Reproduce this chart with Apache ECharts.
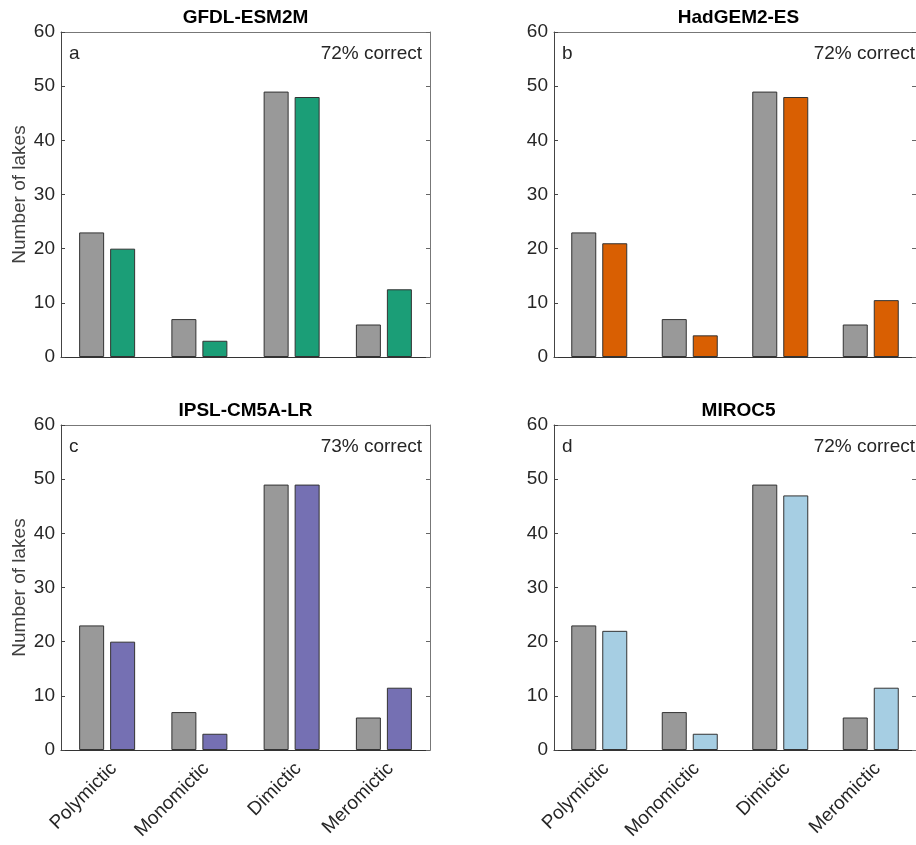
<!DOCTYPE html>
<html>
<head>
<meta charset="utf-8">
<script src="https://cdn.jsdelivr.net/npm/echarts@6/dist/echarts.min.js"></script>
<style>html,body{margin:0;padding:0;background:#fff;}#c{width:916px;height:845px;}</style>
</head>
<body>
<div id="c"></div>
<script>
var categories = ['Polymictic', 'Monomictic', 'Dimictic', 'Meromictic'];
var observed = [23, 7, 49, 6];
var gfdl = [20, 3, 48, 12.5];
var hadgem = [21, 4, 48, 10.5];
var ipsl = [20, 3, 49, 11.5];
var miroc = [22, 3, 47, 11.5];
var modelNames = ['GFDL-ESM2M', 'HadGEM2-ES', 'IPSL-CM5A-LR', 'MIROC5'];
var panelLetters = ['a', 'b', 'c', 'd'];
var correctLabels = ['72% correct', '72% correct', '73% correct', '72% correct'];
var yTicks = [0, 10, 20, 30, 40, 50, 60];

var modelData = [gfdl, hadgem, ipsl, miroc];
var colors = ['#1b9e77', '#d95f02', '#7570b3', '#a6cee3'];
var FONT = '"Liberation Sans", Arial, Helvetica, sans-serif';
var FS = 19;
var W = 369, H = 325;
var pos = [[61, 32], [554, 32], [61, 425], [554, 425]];

var grids = [], xAxes = [], yAxes = [], series = [], graphics = [];
for (var i = 0; i < 4; i++) {
  var L = pos[i][0], T = pos[i][1];
  grids.push({left: L, top: T, width: W, height: H, containLabel: false});
  var bottomPanel = i >= 2;
  xAxes.push({
    type: 'category', gridIndex: i, data: categories, position: 'bottom',
    axisLine: {show: true, onZero: false, lineStyle: {color: '#333', width: 1}},
    axisTick: {inside: true, alignWithLabel: true, length: 4, lineStyle: {color: '#444'}},
    axisLabel: {show: bottomPanel, rotate: 45, fontSize: FS, fontFamily: FONT, color: '#262626',
      margin: 9, interval: 0, verticalAlign: 'top'},
    splitLine: {show: false}
  });
  xAxes.push({
    type: 'category', gridIndex: i, data: categories, position: 'top',
    axisLine: {show: true, onZero: false, lineStyle: {color: '#777', width: 1}},
    axisTick: {inside: true, alignWithLabel: true, length: 4, lineStyle: {color: '#666'}},
    axisLabel: {show: false}, splitLine: {show: false}
  });
  yAxes.push({
    type: 'value', gridIndex: i, min: yTicks[0], max: yTicks[yTicks.length - 1], interval: 10, position: 'left',
    name: (i % 2 === 0) ? 'Number of lakes' : '', nameLocation: 'middle', nameGap: 32,
    nameTextStyle: {fontSize: FS, fontFamily: FONT, color: '#404040'},
    axisLine: {show: true, onZero: false, lineStyle: {color: '#444', width: 1}},
    axisTick: {show: true, inside: true, length: 4, lineStyle: {color: '#444'}},
    axisLabel: {fontSize: FS, fontFamily: FONT, color: '#262626', margin: 6},
    splitLine: {show: false}
  });
  yAxes.push({
    type: 'value', gridIndex: i, min: yTicks[0], max: yTicks[yTicks.length - 1], interval: 10, position: 'right',
    axisLine: {show: true, onZero: false, lineStyle: {color: '#777', width: 1}},
    axisTick: {show: true, inside: true, length: 4, lineStyle: {color: '#666'}},
    axisLabel: {show: false}, splitLine: {show: false}
  });
  series.push({
    type: 'bar', xAxisIndex: 2 * i, yAxisIndex: 2 * i, data: observed,
    barWidth: 25, barGap: '24%',
    itemStyle: {color: '#999999', borderColor: '#333', borderWidth: 1}
  });
  series.push({
    type: 'bar', xAxisIndex: 2 * i, yAxisIndex: 2 * i, data: modelData[i],
    barWidth: 25, barGap: '24%',
    itemStyle: {color: colors[i], borderColor: '#333', borderWidth: 1}
  });
  graphics.push({type: 'text', z: 100, style: {text: modelNames[i], x: L + W / 2, y: T - 14,
    textAlign: 'center', textVerticalAlign: 'middle', font: 'bold ' + FS + 'px ' + FONT, fill: '#000'}});
  graphics.push({type: 'text', z: 100, style: {text: panelLetters[i], x: L + 8, y: T + 22,
    textAlign: 'left', textVerticalAlign: 'middle', font: FS + 'px ' + FONT, fill: '#262626'}});
  graphics.push({type: 'text', z: 100, style: {text: correctLabels[i], x: L + W - 8, y: T + 22,
    textAlign: 'right', textVerticalAlign: 'middle', font: FS + 'px ' + FONT, fill: '#262626'}});
}

var chart = echarts.init(document.getElementById('c'), null, {renderer: 'canvas'});
chart.setOption({
  animation: false,
  backgroundColor: '#fff',
  grid: grids, xAxis: xAxes, yAxis: yAxes, series: series, graphic: graphics
});
</script>
</body>
</html>
